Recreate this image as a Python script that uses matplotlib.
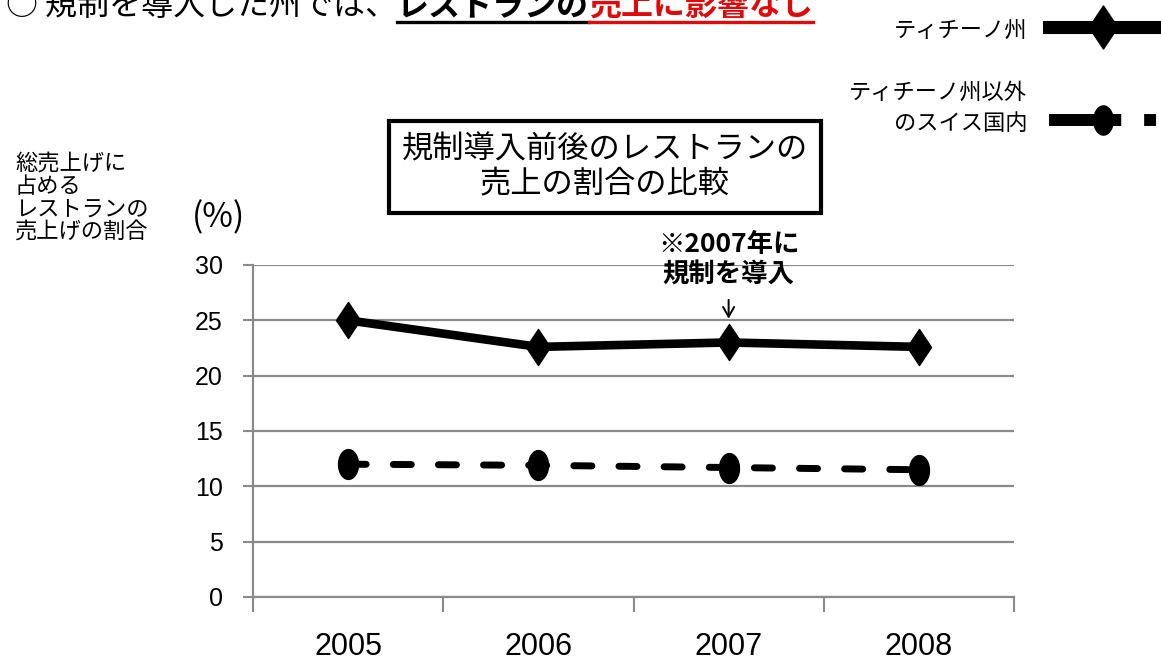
import numpy as np
import matplotlib
matplotlib.use('Agg')
import matplotlib.pyplot as plt
from matplotlib.path import Path
from matplotlib.lines import Line2D

# ---- data -------------------------------------------------------------
years = ['2005', '2006', '2007', '2008']
ticino = [25.0, 22.6, 23.0, 22.6]
rest_of_swiss = [12.0, 11.9, 11.7, 11.5]
y_ticks = [0, 5, 10, 15, 20, 25, 30]
series_labels = ['ティチーノ州', 'ティチーノ州以外\nのスイス国内']

headline_parts = ['○ 規制を導入した州では、', 'レストランの', '売上に影響なし']
box_title = '規制導入前後のレストランの\n売上の割合の比較'
note_text = '※2007年に\n規制を導入'
y_label = '総売上げに\n占める\nレストランの\n売上げの割合'
unit_label = '(%)'

# ---- style ------------------------------------------------------------
JP = ['Noto Sans CJK JP', 'DejaVu Sans']
NUM = ['Liberation Sans Narrow', 'Liberation Sans', 'DejaVu Sans']
GREY = '#8a8a8a'
RED = '#e00a0a'
plt.rcParams['lines.scale_dashes'] = False

W, H = 1161, 663
fig = plt.figure(figsize=(W / 100, H / 100), dpi=100)
fig.patch.set_facecolor('white')
ax = fig.add_axes([253 / W, 1 - 597 / H, (1014 - 253) / W, (597 - 265) / H])

# tall marker shapes
diamond = Path([(0, 1.5), (1, 0), (0, -1.5), (-1, 0), (0, 1.5)],
               [Path.MOVETO, Path.LINETO, Path.LINETO, Path.LINETO, Path.CLOSEPOLY])
theta = np.linspace(0, 2 * np.pi, 65)
ellipse = Path(np.column_stack([np.cos(theta), 1.5 * np.sin(theta)]), closed=True)

x = np.arange(len(years))
ax.plot(x, ticino, color='black', lw=6.2, marker=diamond, ms=26,
        solid_joinstyle='round', zorder=3)
ax.plot(x, rest_of_swiss, color='black', lw=5, linestyle=(0, (13, 19.5)),
        dash_capstyle='round', marker=ellipse, ms=21.5, zorder=3)

# ---- axes -------------------------------------------------------------
ax.set_xlim(-0.5, len(years) - 0.5)
ax.set_ylim(0, 30)
ax.set_yticks(y_ticks)
ax.set_xticks(np.arange(-0.5, len(years), 1.0))
ax.set_xticklabels([])
ax.set_xticks(x, minor=True)
ax.set_xticklabels(years, minor=True)
ax.tick_params(axis='x', which='major', length=11, width=1.5, color=GREY, direction='out')
ax.tick_params(axis='x', which='minor', length=0, pad=25, labelsize=22)
ax.tick_params(axis='y', length=7.2, width=1.5, color=GREY, pad=14.4, labelsize=18)
for lab in ax.get_xticklabels(minor=True) + ax.get_yticklabels():
    lab.set_family(NUM)
ax.yaxis.grid(True, color=GREY, lw=1.6)
ax.set_axisbelow(True)
for side in ('top', 'right'):
    ax.spines[side].set_visible(False)
for side in ('left', 'bottom'):
    ax.spines[side].set_color(GREY)
    ax.spines[side].set_linewidth(1.6)

# ---- annotations ------------------------------------------------------
fig.text(605 / W, 1 - 167 / H, box_title, ha='center', va='center', fontsize=22.5,
         family=JP, linespacing=1.1,
         bbox=dict(boxstyle='square,pad=0.4', fc='white', ec='black', lw=3))

ax.text(2, 30.45, note_text, ha='center', va='center', fontsize=19,
        fontweight='bold', family=JP, linespacing=1.15, clip_on=False)
ax.annotate('', xy=(2, 24.9), xytext=(2, 27.1),
            arrowprops=dict(arrowstyle='->,head_length=0.7,head_width=0.4',
                            lw=1.4, color='black'))

fig.text(15 / W, 1 - 152 / H, y_label, ha='left', va='top', fontsize=16,
         family=JP, linespacing=1.0)
fig.text(218 / W, 1 - 218 / H, unit_label, ha='center', va='center', fontsize=24,
         family=JP)

# ---- legend -----------------------------------------------------------
h1 = Line2D([], [], color='black', lw=9.4, marker=diamond, ms=31)
h2 = Line2D([], [], color='black', lw=8.6, linestyle=(0, (52, 16.5)),
            marker=ellipse, ms=21)
leg = fig.legend([h1, h2], series_labels, loc='upper right',
                 bbox_to_anchor=(1156 / W, 1 - 17 / H), frameon=False,
                 markerfirst=False, handlelength=4.8, handleheight=1.35,
                 handletextpad=1.0, labelspacing=1.75, borderpad=0,
                 borderaxespad=0, prop={'family': JP, 'size': 16})
for t in leg.get_texts():
    t.set_multialignment('right')
    t.set_linespacing(1.45)
# keep each handle level with the last line of its label
for column in leg._legend_handle_box.get_children():
    for row in column.get_children():
        row.align = 'bottom'

# ---- headline ---------------------------------------------------------
fig.canvas.draw()
renderer = fig.canvas.get_renderer()
styles = [('normal', 'black', False), ('bold', 'black', True), ('bold', RED, True)]
x_px = 6
base_y = 1 - 15 / H
for s, (weight, col, underline) in zip(headline_parts, styles):
    t = fig.text(x_px / W, base_y, s, ha='left', va='baseline', fontsize=23,
                 fontweight=weight, color=col, family=JP)
    bb = t.get_window_extent(renderer)
    if underline:
        fig.add_artist(Line2D([bb.x0 / W, bb.x1 / W], [1 - 21.5 / H, 1 - 21.5 / H],
                              transform=fig.transFigure, color=col, lw=2.4))
    x_px = bb.x1

fig.savefig('out.png', dpi=100)
